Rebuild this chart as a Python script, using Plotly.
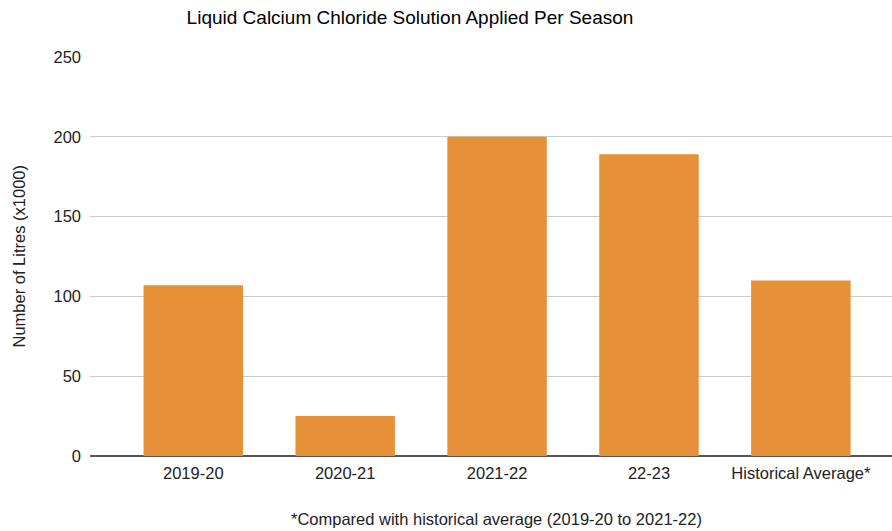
import plotly.graph_objects as go

categories = ["2019-20", "2020-21", "2021-22", "22-23", "Historical Average*"]
values = [107, 25, 200, 189, 110]
y_ticks = [0, 50, 100, 150, 200, 250]

W, H = 892, 531
L, R, T, B = 90, 0, 57, 75

fig = go.Figure(go.Bar(
    x=categories, y=values,
    marker=dict(color="#E69138", line=dict(width=0)),
    hoverinfo="x+y",
))

fig.update_layout(
    width=W, height=H,
    margin=dict(l=L, r=R, t=T, b=B, autoexpand=False),
    paper_bgcolor="white", plot_bgcolor="white",
    font=dict(family="Liberation Sans, Arial, sans-serif", color="#222222", size=16.5),
    bargap=0.345,
    showlegend=False,
    title=dict(text="Liquid Calcium Chloride Solution Applied Per Season",
               x=410 / W, xref="container", xanchor="center",
               y=1 - 17 / H, yref="container", yanchor="middle",
               font=dict(size=19, color="#000000")),
    xaxis=dict(
        range=[-0.68, 4.6], showgrid=False, zeroline=False,
        showline=False, ticks="", ticklabelstandoff=5,
        tickfont=dict(size=16.5, color="#222222"),
    ),
    yaxis=dict(
        range=[0, 250], tickvals=y_ticks, showgrid=True, gridcolor="#cccccc",
        gridwidth=1, zeroline=True, zerolinecolor="#555555", zerolinewidth=1.5,
        showline=False, ticks="", ticklabelstandoff=8,
        tickfont=dict(size=16.5, color="#222222"),
    ),
    annotations=[
        dict(text="Number of Litres (x1000)", textangle=-90,
             xref="paper", yref="paper",
             x=(18 - L) / (W - L - R), y=0.5, xanchor="center", yanchor="middle",
             showarrow=False, font=dict(size=16.5, color="#222222")),
        dict(text="*Compared with historical average (2019-20 to 2021-22)",
             xref="paper", yref="paper",
             x=(496 - L) / (W - L - R), y=-(519 - (H - B)) / (H - T - B),
             xanchor="center", yanchor="middle",
             showarrow=False, font=dict(size=16.5, color="#222222")),
    ],
)

fig.write_html(
    "out.html",
    config={"displayModeBar": False},
    post_script="document.body.style.margin='0';document.body.style.overflow='hidden';",
)
